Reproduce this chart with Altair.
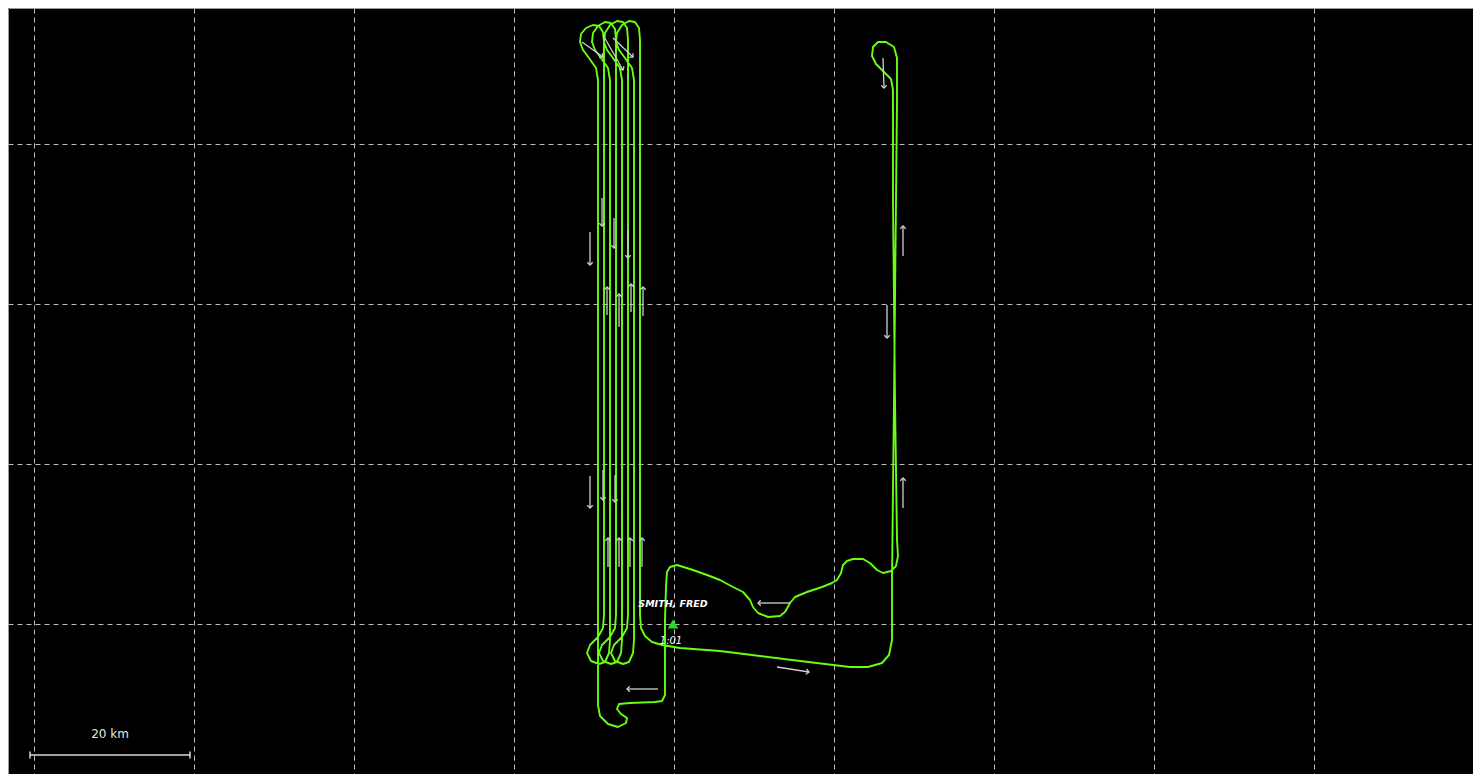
import altair as alt
import pandas as pd
import numpy as np

# ---------------- data (km, origin at a grid crossing) ----------------
seg_hook = [(-1.125, 0.5), (-1.125, -8.875), (-1.5, -9.625), (-2.375, -9.75), (-5.5, -9.875),
            (-6.875, -10.0), (-7.125, -10.625), (-6.625, -11.25), (-5.875, -11.75), (-6.0, -12.375),
            (-7.0, -12.875), (-8.25, -12.5), (-9.25, -11.5), (-9.5, -10.125)]

leg_0 = [(-9.5, 28.0), (-9.5, 68.0),
         (-9.75, 69.5), (-10.625, 70.75), (-11.375, 71.75), (-11.75, 72.75), (-11.625, 73.75),
         (-11.0, 74.5), (-10.125, 74.875), (-9.375, 74.75), (-8.875, 74.0), (-8.75, 72.75), (-8.75, 70.5),
         (-8.75, 28.0), (-8.75, 1.125),
         (-8.875, -0.5), (-9.5, -1.625), (-10.5, -2.625), (-10.875, -3.625), (-10.375, -4.625),
         (-9.375, -5.0), (-8.625, -4.75), (-8.125, -3.625), (-8.0, -2.0)]

leg_1 = [(-8.0, 28.0), (-8.0, 68.0),
         (-8.25, 69.5), (-9.125, 70.75), (-9.875, 71.75), (-10.25, 72.75), (-10.125, 73.875),
         (-9.5, 74.75), (-8.625, 75.25), (-7.875, 75.125), (-7.375, 74.375), (-7.25, 73.0), (-7.25, 70.5),
         (-7.25, 28.0), (-7.25, 1.125),
         (-7.375, -0.5), (-8.0, -1.625), (-9.0, -2.625), (-9.375, -3.625), (-8.875, -4.625),
         (-7.875, -5.0), (-7.125, -4.75), (-6.625, -3.625), (-6.5, -2.0)]

leg_2 = [(-6.5, 28.0), (-6.5, 68.0),
         (-6.75, 69.5), (-7.625, 70.75), (-8.375, 71.75), (-8.75, 72.75), (-8.625, 73.875),
         (-8.0, 74.875), (-7.125, 75.375), (-6.375, 75.25), (-5.875, 74.5), (-5.75, 73.0), (-5.75, 70.5),
         (-5.75, 28.0), (-5.75, 1.125),
         (-5.875, -0.5), (-6.5, -1.625), (-7.5, -2.625), (-7.875, -3.625), (-7.375, -4.625),
         (-6.375, -5.0), (-5.625, -4.75), (-5.125, -3.625), (-5.0, -2.0)]

leg_3 = [(-5.0, 28.0), (-5.0, 68.0),
         (-5.25, 69.5), (-6.125, 70.75), (-6.875, 71.75), (-7.25, 72.75), (-7.125, 73.875),
         (-6.5, 74.875), (-5.625, 75.375), (-4.875, 75.25), (-4.375, 74.5), (-4.25, 73.0), (-4.25, 70.5),
         (-4.25, 28.0), (-4.25, 1.125)]

seg_east = [(-4.125, -0.5), (-3.625, -1.5), (-2.75, -2.25), (-1.5, -2.625), (0.75, -3.0), (5.75, -3.375),
            (10.75, -4.0), (15.75, -4.625), (22.0, -5.375), (24.25, -5.375), (26.0, -4.875),
            (26.875, -3.875), (27.25, -2.0), (27.25, 5.5), (27.5, 28.0), (27.75, 53.0), (27.875, 65.5),
            (27.875, 70.75), (27.5, 72.125), (26.5, 72.75), (25.5, 72.75), (24.875, 72.125), (24.75, 71.0),
            (25.25, 70.0), (26.25, 69.0), (27.125, 68.125), (27.375, 66.75), (27.375, 53.0),
            (27.625, 28.0), (27.875, 10.5), (28.0, 8.5)]

seg_return = [(27.75, 7.25), (27.125, 6.625), (26.125, 6.375), (25.375, 6.75), (24.5, 7.625),
              (23.625, 8.125), (22.375, 8.125), (21.625, 7.875), (21.125, 7.375), (20.875, 6.375),
              (20.375, 5.5), (19.75, 5.125), (18.5, 4.625), (16.625, 4.0), (15.125, 3.375), (14.5, 2.625),
              (13.875, 1.5), (13.25, 1.0), (11.75, 0.875), (10.5, 1.375), (9.875, 2.125), (9.5, 3.0),
              (8.625, 4.0), (7.375, 4.625), (5.75, 5.5), (4.125, 6.125), (2.375, 6.75), (0.375, 7.375),
              (-0.5, 7.125), (-0.875, 6.5), (-1.0, 4.625), (-1.125, 0.5)]

# direction arrows: tail (x1, y1) -> head (x2, y2)
arr_x1 = [-10.5, -9.0, -7.5, -5.75, -8.375, -6.875, -5.375, -3.875, 26.125, 28.625, 26.625, 28.625,
          -10.5, -8.875, -7.375, -8.25, -6.875, -5.5, -4.0, -2.0, 14.5, 12.875, -11.5, -8.875, -7.625]
arr_y1 = [49.0, 53.25, 50.75, 49.25, 38.625, 37.125, 39.0, 38.5, 70.75, 46.0, 39.875, 14.5,
          18.5, 19.25, 18.625, 7.125, 7.125, 7.125, 7.125, -8.125, 2.625, -5.375, 72.75, 73.625, 73.25]
arr_x2 = [-10.5, -9.0, -7.5, -5.75, -8.375, -6.875, -5.375, -3.875, 26.25, 28.625, 26.625, 28.625,
          -10.5, -8.875, -7.375, -8.25, -6.875, -5.5, -4.0, -5.875, 10.5, 16.875, -8.875, -6.375, -5.125]
arr_y2 = [44.875, 49.75, 47.0, 45.75, 42.125, 41.25, 42.5, 42.125, 67.0, 49.75, 35.75, 18.25,
          14.5, 15.5, 15.25, 10.75, 10.75, 10.75, 10.75, -8.125, 2.625, -6.0, 70.875, 69.25, 70.875]

pilot_label = ["SMITH, FRED"]
time_label = ["1:01"]
home_pos = [(-0.125, 0.0)]
scale_bar_km = 20
scale_bar = [(-80.5, -60.5, -16.375)]

# ---------------- frame ----------------
W, H = 1465, 766
x_dom = [-83.25, -83.25 + W / 8]
y_dom = [77 - H / 8, 77]
grid_x = [-80, -60, -40, -20, 0, 20, 40, 60, 80]
grid_y = [0, 20, 40, 60]

track = seg_hook + leg_0 + leg_1 + leg_2 + leg_3 + seg_east + seg_return
df_track = pd.DataFrame(track, columns=["x", "y"])
df_track["order"] = np.arange(len(df_track))

df_arr = pd.DataFrame({"x": arr_x1, "y": arr_y1, "x2": arr_x2, "y2": arr_y2})
dx = np.array(arr_x2) - np.array(arr_x1)
dy = np.array(arr_y2) - np.array(arr_y1)
df_head = pd.DataFrame({"x": arr_x2, "y": arr_y2,
                        "ang": (np.degrees(np.arctan2(-dx, -dy)) + 360) % 360})

GRID = dict(grid=True, labels=False, ticks=False, domain=False, title=None,
            gridDash=[5, 4], gridColor="#bdbdbd", gridWidth=1)
xenc = alt.X("x:Q", scale=alt.Scale(domain=x_dom, nice=False, zero=False),
             axis=alt.Axis(values=grid_x, **GRID))
yenc = alt.Y("y:Q", scale=alt.Scale(domain=y_dom, nice=False, zero=False),
             axis=alt.Axis(values=grid_y, **GRID))

ARROW = "#cfcfcf"

track_layer = alt.Chart(df_track).mark_line(
    color="#66ff12", strokeWidth=1.9, strokeJoin="round").encode(x=xenc, y=yenc, order="order:Q")

shafts = alt.Chart(df_arr).mark_rule(color=ARROW, strokeWidth=1.3).encode(
    x=xenc, y=yenc, x2="x2:Q", y2="y2:Q")

heads = alt.Chart(df_head).mark_point(
    shape="M-1,-1L0,0L1,-1", filled=False, size=30, strokeWidth=1.3, color=ARROW, opacity=1
).encode(x=xenc, y=yenc, angle=alt.Angle("ang:Q", scale=None))

df_home = pd.DataFrame(home_pos, columns=["x", "y"])
home = alt.Chart(df_home).mark_point(
    shape="triangle-up", filled=True, size=110, color="#22e022", opacity=1).encode(x=xenc, y=yenc)

df_pilot = pd.DataFrame({"x": [home_pos[0][0]], "y": [home_pos[0][1] + 2.5], "t": pilot_label})
pilot = alt.Chart(df_pilot).mark_text(
    color="#ffffff", font="DejaVu Sans", fontSize=9.5, fontWeight="bold", fontStyle="italic").encode(
    x=xenc, y=yenc, text="t:N")

df_time = pd.DataFrame({"x": [home_pos[0][0] - 0.25], "y": [home_pos[0][1] - 2.125], "t": time_label})
timel = alt.Chart(df_time).mark_text(
    color="#ffffff", font="DejaVu Sans", fontSize=10, fontStyle="italic").encode(
    x=xenc, y=yenc, text="t:N")

sb = scale_bar[0]
df_sb = pd.DataFrame({"x": [sb[0]], "x2": [sb[1]], "y": [sb[2]]})
sb_line = alt.Chart(df_sb).mark_rule(color="#d8d8d8", strokeWidth=1.5).encode(
    x=xenc, x2="x2:Q", y=yenc)
df_sbt = pd.DataFrame({"x": [sb[0], sb[1]], "y": [sb[2] + 0.45] * 2, "y2": [sb[2] - 0.45] * 2})
sb_ticks = alt.Chart(df_sbt).mark_rule(color="#d8d8d8", strokeWidth=1.5).encode(
    x=xenc, y=yenc, y2="y2:Q")
df_sbl = pd.DataFrame({"x": [(sb[0] + sb[1]) / 2], "y": [sb[2] + 2.6], "t": [f"{scale_bar_km} km"]})
sb_text = alt.Chart(df_sbl).mark_text(
    color="#e6e6e6", font="DejaVu Sans", fontSize=12).encode(x=xenc, y=yenc, text="t:N")

chart = alt.layer(track_layer, shafts, heads, home, pilot, timel, sb_line, sb_ticks, sb_text).properties(
    width=W, height=H, autosize=alt.AutoSizeParams(type="none"), padding=0
).configure(background="#000000").configure_view(fill="#000000", stroke="#9a9a9a", strokeWidth=1)

chart.save("out.html", embed_options={"renderer": "svg", "actions": False})
